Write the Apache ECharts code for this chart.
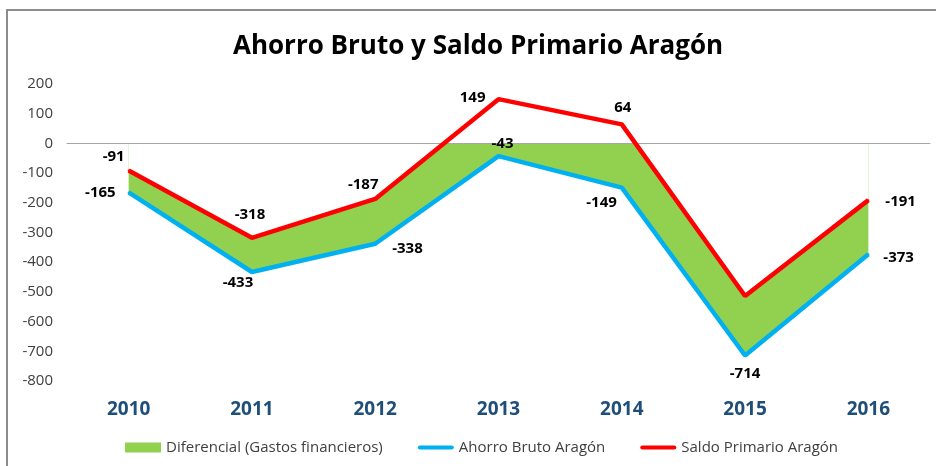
<!DOCTYPE html>
<html>
<head>
<meta charset="utf-8">
<script src="https://cdn.jsdelivr.net/npm/echarts@6/dist/echarts.min.js"></script>
<style>
html,body{margin:0;padding:0;background:#fff;}
#main{width:936px;height:466px;}
</style>
</head>
<body>
<div id="main"></div>
<script>
// datos (millones de euros)
var years = ['2010', '2011', '2012', '2013', '2014', '2015', '2016'];
var ahorroBruto = [-165, -433, -338, -43, -149, -714, -373];
var saldoPrimario = [-91, -318, -187, 149, 64, -514, -191];

// posicion de las etiquetas
var ahorroPos = ['left', 'bottom', 'right', 'top', 'left', 'bottom', 'right'];
var saldoPos = ['left', 'top', 'top', 'left', 'top', null, 'right'];

var chartDom = document.getElementById('main');
var myChart = echarts.init(chartDom);

var font = "'Open Sans', 'Noto Sans', sans-serif";
var lineIcon = 'path://M2,0 H34 A2,2 0 0 1 34,4 H2 A2,2 0 0 1 2,0 Z';

function labelled(values, pos, offsets) {
	var out = [];
	for (var i = 0; i < values.length; i++) {
		if (pos[i] == null) {
			out.push({value: values[i], label: {show: false}});
		} else {
			out.push({value: values[i], label: {show: true, position: pos[i], offset: offsets[i]}});
		}
	}
	return out;
}

var dataLabel = {
	show: true,
	color: '#000',
	fontWeight: 'bold',
	fontSize: 15,
	fontFamily: font,
	distance: 8
};

var option = {
	animation: false,
	title: {
		text: 'Ahorro Bruto y Saldo Primario Aragón',
		left: 228,
		top: 29,
		textStyle: {fontSize: 26, fontWeight: 'bold', color: '#000', fontFamily: font}
	},
	graphic: [{
		type: 'rect',
		shape: {x: 7, y: 10, width: 940, height: 470},
		style: {fill: 'none', stroke: '#8c8c8c', lineWidth: 2},
		z: -1
	}],
	legend: {
		bottom: 6,
		left: 120,
		itemGap: 35,
		itemWidth: 36,
		itemHeight: 10,
		textStyle: {fontSize: 15, color: '#404040', fontFamily: font},
		data: [
			{name: 'Diferencial (Gastos financieros)', icon: 'rect'},
			{name: 'Ahorro Bruto Aragón', icon: lineIcon, itemStyle: {color: '#00B0F0'}},
			{name: 'Saldo Primario Aragón', icon: lineIcon, itemStyle: {color: '#FF0000'}}
		]
	},
	grid: {left: 67, right: 6, top: 84, bottom: 85},
	xAxis: [{
		type: 'category',
		data: years,
		position: 'bottom',
		axisLine: {show: false, onZero: false},
		axisTick: {show: false},
		axisLabel: {
			color: '#1F4E79',
			fontWeight: 'bold',
			fontSize: 19,
			fontFamily: font,
			margin: 19
		}
	}, {
		type: 'category',
		data: years,
		position: 'bottom',
		z: 4,
		axisLine: {show: true, onZero: true, lineStyle: {color: '#a6a6a6', width: 1}},
		axisTick: {show: false},
		axisLabel: {show: false}
	}],
	yAxis: {
		type: 'value',
		min: -800,
		max: 200,
		interval: 100,
		axisLine: {show: false},
		axisTick: {show: false},
		splitLine: {show: false},
		axisLabel: {color: '#404040', fontSize: 15, fontFamily: font, margin: 14}
	},
	series: [
		{
			// area verde desde Ahorro Bruto hasta cero
			name: 'Diferencial (Gastos financieros)',
			type: 'line',
			data: ahorroBruto,
			symbol: 'none',
			lineStyle: {width: 0},
			itemStyle: {color: '#92D050'},
			areaStyle: {color: '#92D050', opacity: 1},
			z: 1
		},
		{
			// mascara blanca desde Saldo Primario hasta cero
			name: 'mask',
			type: 'line',
			data: saldoPrimario,
			symbol: 'none',
			lineStyle: {width: 0},
			itemStyle: {color: '#fff'},
			areaStyle: {color: '#fff', opacity: 1},
			silent: true,
			z: 2
		},
		{
			name: 'Ahorro Bruto Aragón',
			type: 'line',
			data: labelled(ahorroBruto, ahorroPos, [[-4, 0], [-14, -6], [8, 5], [4, 4], [4, 15], [0, 2], [6, 4]]),
			symbol: 'circle',
			symbolSize: 2,
			showSymbol: true,
			lineStyle: {width: 4.5, color: '#00B0F0'},
			itemStyle: {color: '#00B0F0'},
			label: dataLabel,
			z: 6
		},
		{
			name: 'Saldo Primario Aragón',
			type: 'line',
			data: labelled(saldoPrimario, saldoPos, [[5, -14], [-2, -7], [-12, 2], [-4, -1], [1, 0], [0, 0], [8, 2]]),
			symbol: 'circle',
			symbolSize: 2,
			showSymbol: true,
			lineStyle: {width: 4.5, color: '#FF0000'},
			itemStyle: {color: '#FF0000'},
			label: dataLabel,
			z: 7
		}
	]
};
myChart.setOption(option);
</script>
</body>
</html>
